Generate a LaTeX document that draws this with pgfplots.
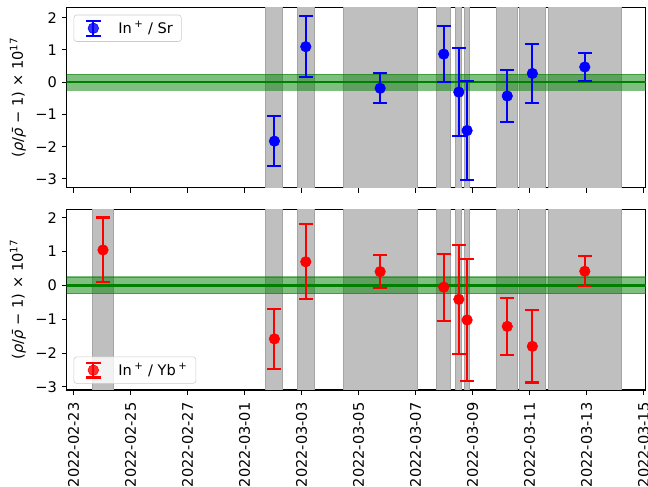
\documentclass[border=0pt]{standalone}
\usepackage{fontspec}
\setmainfont{DejaVu Sans}
\usepackage{pgfplots}
\pgfplotsset{compat=1.18}
\usetikzlibrary{calc}
\definecolor{mplgreen}{RGB}{0,128,0}
\definecolor{bandfill}{RGB}{191,191,191}
\definecolor{bandedge}{RGB}{165,165,165}
\newcommand{\band}[2]{\addplot[fill=bandfill, draw=bandedge, line width=0.6pt, forget plot] coordinates {(#1,-10) (#1,10) (#2,10) (#2,-10)} -- cycle;}
\pgfplotsset{
  panel/.style={
    width=417pt, height=130pt, scale only axis,
    xmin=-0.24, xmax=20.08,
    xtick={0,2,...,20},
    ytick={-3,-2,-1,0,1,2},
    yticklabels={−3,−2,−1,0,1,2},
    tick align=outside, tick pos=left,
    major tick length=3.5pt,
    every tick/.style={black, line width=0.8pt},
    axis line style={line width=0.8pt},
    tick label style={font=\fontsize{10.5}{12.6}\selectfont},
    label style={font=\fontsize{10.5}{12.6}\selectfont},
    ylabel={(\textit{ρ}/\textit{\=ρ} − 1) × 10\textsuperscript{17}},
    clip=true,
    legend cell align=left,
    legend style={draw=black!20, rounded corners=2pt, fill=white, fill opacity=0.8, text opacity=1, inner xsep=4pt, inner ysep=2.5pt, font=\fontsize{10.5}{12.6}\selectfont,
      /tikz/every odd column/.append style={column sep=6pt}},
  },
  ebar/.style={only marks, mark=*, mark size=3.8pt, mark options={draw=#1, fill=#1}, #1,
    error bars/.cd, y dir=both, y explicit, error mark=-,
    error bar style={line width=1.5pt},
    error mark options={line width=1.5pt, mark size=5pt, rotate=90}},
  ebarlegend/.style={legend image code/.code={
    \draw[#1, line width=1.5pt] (10pt,-5.3pt) -- (10pt,5.3pt);
    \draw[#1, line width=1.5pt] (4.8pt,-5.3pt) -- (15.2pt,-5.3pt) (4.8pt,5.3pt) -- (15.2pt,5.3pt);
    \fill[#1] (10pt,0pt) circle (3.8pt);
    \path[draw=none, fill=none] (0pt,0pt) -- (20pt,0pt);
  }},
}
\begin{document}
\begin{tikzpicture}
\begin{axis}[panel, name=top, ymin=-3.28, ymax=2.32, xticklabels={},
  legend style={at={(axis description cs:0,1)}, anchor=north west, xshift=5pt, yshift=-5.3pt}]
\band{6.75}{7.34}
\band{7.84}{8.47}
\band{9.47}{12.06}
\band{12.75}{13.22}
\band{13.41}{13.60}
\band{13.73}{13.90}
\band{14.85}{15.56}
\band{15.63}{16.57}
\band{16.65}{19.21}
\addplot[fill=mplgreen, fill opacity=0.5, draw=mplgreen, draw opacity=0.5, line width=0.8pt, forget plot] coordinates {(-5,-0.25) (-5,0.25) (25,0.25) (25,-0.25)} -- cycle;
\addplot[mplgreen, line width=1.5pt, forget plot] coordinates {(-5,0) (25,0)};
\addplot[forget plot, ebar=blue]
  table[x=x, y=y, y error=e] {
x y e
7.05 -1.83 0.78
8.15 1.10 0.95
10.76 -0.19 0.47
12.99 0.87 0.86
13.52 -0.31 1.37
13.81 -1.50 1.54
15.22 -0.43 0.81
16.10 0.27 0.92
17.94 0.47 0.44
};
\addlegendimage{ebarlegend=blue}
\addlegendentry{In\,\textsuperscript{+} / Sr}
\end{axis}
\begin{axis}[panel, name=bot, at={($(top.south west)+(0,-15.5pt)$)}, anchor=north west,
  ymin=-3.09, ymax=2.25,
  xticklabels={2022-02-23,2022-02-25,2022-02-27,2022-03-01,2022-03-03,2022-03-05,2022-03-07,2022-03-09,2022-03-11,2022-03-13,2022-03-15},
  x tick label style={rotate=90, anchor=east, xshift=-2pt},
  legend style={at={(axis description cs:0,0)}, anchor=south west, xshift=5pt, yshift=4.5pt}]
\band{0.67}{1.40}
\band{6.75}{7.34}
\band{7.84}{8.47}
\band{9.47}{12.06}
\band{12.75}{13.22}
\band{13.41}{13.60}
\band{13.73}{13.90}
\band{14.85}{15.56}
\band{15.63}{16.57}
\band{16.65}{19.21}
\addplot[fill=mplgreen, fill opacity=0.5, draw=mplgreen, draw opacity=0.5, line width=0.8pt, forget plot] coordinates {(-5,-0.25) (-5,0.25) (25,0.25) (25,-0.25)} -- cycle;
\addplot[mplgreen, line width=1.5pt, forget plot] coordinates {(-5,0) (25,0)};
\addplot[forget plot, ebar=red]
  table[x=x, y=y, y error=e] {
x y e
1.035 1.05 0.96
7.05 -1.58 0.88
8.15 0.70 1.11
10.76 0.41 0.49
12.99 -0.05 0.99
13.52 -0.41 1.61
13.81 -1.02 1.80
15.22 -1.21 0.84
16.10 -1.80 1.07
17.94 0.42 0.44
};
\addlegendimage{ebarlegend=red}
\addlegendentry{In\,\textsuperscript{+} / Yb\,\textsuperscript{+}}
\end{axis}
\pgfresetboundingbox
\path[use as bounding box] (top.north west) ++(-48pt,5.3pt) rectangle ++(466.6pt,-350.6pt);
\end{tikzpicture}
\end{document}
